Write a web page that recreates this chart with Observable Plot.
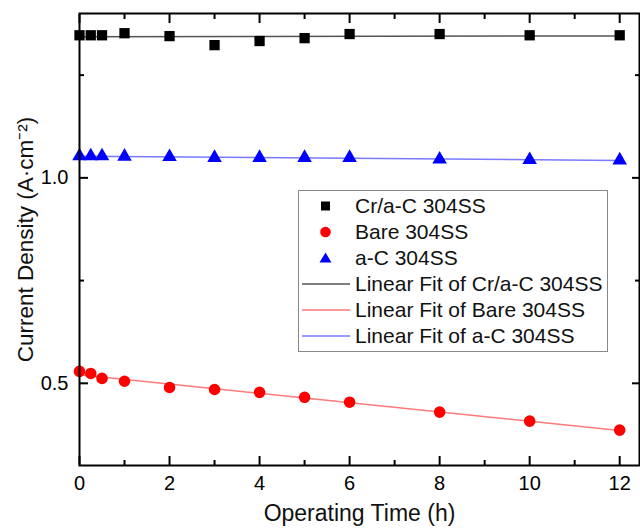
<!DOCTYPE html>
<html><head><meta charset="utf-8">
<script src="https://cdn.jsdelivr.net/npm/d3@7"></script>
<script src="https://cdn.jsdelivr.net/npm/@observablehq/plot@0.6"></script>
<style>
body{margin:0;background:#fff;font-family:"Liberation Sans",Arial,sans-serif}
#wrap{position:relative;width:640px;height:531px}
#legend{position:absolute;left:298px;top:190px;width:310px;height:162px;border:1.5px solid #888;background:#fff;box-sizing:border-box;font-size:21px;color:#111;padding-top:2px}
.row{display:flex;align-items:center;height:26px}
.row svg{width:52px;height:26px;flex:none;margin-left:1px;margin-right:3px}
</style>
</head><body>
<div id="wrap"></div>
<script>
const times = [0, 0.25, 0.5, 1, 2, 3, 4, 5, 6, 8, 10, 12];
const crac  = [1.347, 1.347, 1.347, 1.352, 1.345, 1.323, 1.333, 1.340, 1.350, 1.350, 1.347, 1.347];
const bare  = [0.529, 0.524, 0.512, 0.505, 0.490, 0.485, 0.478, 0.466, 0.454, 0.430, 0.408, 0.386];
const ac    = [1.053, 1.053, 1.053, 1.052, 1.051, 1.049, 1.049, 1.049, 1.049, 1.045, 1.044, 1.043];
const seriesNames = ["Cr/a-C 304SS", "Bare 304SS", "a-C 304SS"];
const seriesColors = ["#000000", "#ff0000", "#0000ff"];
const fitColors = ["#555555", "#ff7a7a", "#7a7aff"];
const seriesSymbols = ["square", "circle", "triangle"];
const xMajor = [0, 2, 4, 6, 8, 10, 12];
const xMinor = [1, 3, 5, 7, 9, 11];
const yMajor = [0.5, 1.0];
const yMinor = [0.75, 1.25];

const values = [crac, bare, ac];
const data = [];
seriesNames.forEach((s, i) => times.forEach((t, j) => data.push({series: s, t, v: values[i][j]})));

const marks = [];
seriesNames.forEach((s, i) => {
  const d = data.filter(r => r.series === s);
  marks.push(Plot.linearRegressionY(d, {x: "t", y: "v", stroke: fitColors[i], strokeWidth: 1.5, ci: 0}));
});
seriesNames.forEach((s, i) => {
  const d = data.filter(r => r.series === s);
  marks.push(Plot.dot(d, {x: "t", y: "v", fill: seriesColors[i], stroke: "none", symbol: () => seriesSymbols[i], r: i === 2 ? 5.4 : 5.8}));
});

const axStyle = {fontSize: 20};
const chart = Plot.plot({
  width: 640, height: 531,
  marginLeft: 79, marginRight: 1, marginTop: 13, marginBottom: 66,
  x: {domain: [0, 12.44]},
  y: {domain: [0.3, 1.4]},
  symbol: {type: "identity"},
  style: {fontFamily: "Liberation Sans, Arial, sans-serif", background: "#fff", color: "#000", overflow: "visible"},
  marks: [
    ...marks,
    Plot.axisX(xMajor, {anchor: "bottom", tickSize: -9, tickPadding: 19, strokeWidth: 2, ...axStyle, tickFormat: d => String(d), label: null}),
    Plot.axisX(xMinor, {anchor: "bottom", tickSize: -5, strokeWidth: 2, text: null, label: null}),
    Plot.axisX(xMajor, {anchor: "top", tickSize: -9, strokeWidth: 2, text: null, label: null}),
    Plot.axisX(xMinor, {anchor: "top", tickSize: -5, strokeWidth: 2, text: null, label: null}),
    Plot.axisY(yMajor, {anchor: "left", tickSize: -9, tickPadding: 20, strokeWidth: 2, ...axStyle, tickFormat: d3.format(".1f"), label: null}),
    Plot.axisY(yMinor, {anchor: "left", tickSize: -5, strokeWidth: 2, text: null, label: null}),
    Plot.axisY(yMajor, {anchor: "right", tickSize: -8, strokeWidth: 2, text: null, label: null}),
    Plot.axisY(yMinor, {anchor: "right", tickSize: -5, strokeWidth: 2, text: null, label: null}),
    Plot.frame({stroke: "#000", strokeWidth: 2}),
    Plot.text(["Operating Time (h)"], {frameAnchor: "bottom", textAnchor: "middle", dy: 55, fontSize: 23, fill: "#111"}),
    Plot.text(["Current Density (A·cm⁻²)"], {frameAnchor: "left", textAnchor: "middle", rotate: -90, dx: -54, dy: 0, fontSize: 22.5, fill: "#111"})
  ]
});
const wrap = document.getElementById("wrap");
wrap.appendChild(chart);

// legend
const leg = document.createElement("div");
leg.id = "legend";
const sym = {
  square: '<rect x="21" y="8.5" width="9" height="9" fill="#000"/>',
  circle: '<circle cx="25.5" cy="13" r="5.3" fill="#ff0000"/>',
  triangle: '<path d="M25.5 7.5 L31.5 17.5 L19.5 17.5 Z" fill="#0000ff"/>'
};
let html = "";
seriesNames.forEach((s, i) => {
  html += `<div class="row"><svg viewBox="0 0 52 26">${sym[seriesSymbols[i]]}</svg><span>${s}</span></div>`;
});
seriesNames.forEach((s, i) => {
  html += `<div class="row"><svg viewBox="0 0 52 26"><line x1="2" x2="50" y1="13" y2="13" stroke="${fitColors[i]}" stroke-width="1.5"/></svg><span>Linear Fit of ${s}</span></div>`;
});
leg.innerHTML = html;
wrap.appendChild(leg);
</script>
</body></html>
